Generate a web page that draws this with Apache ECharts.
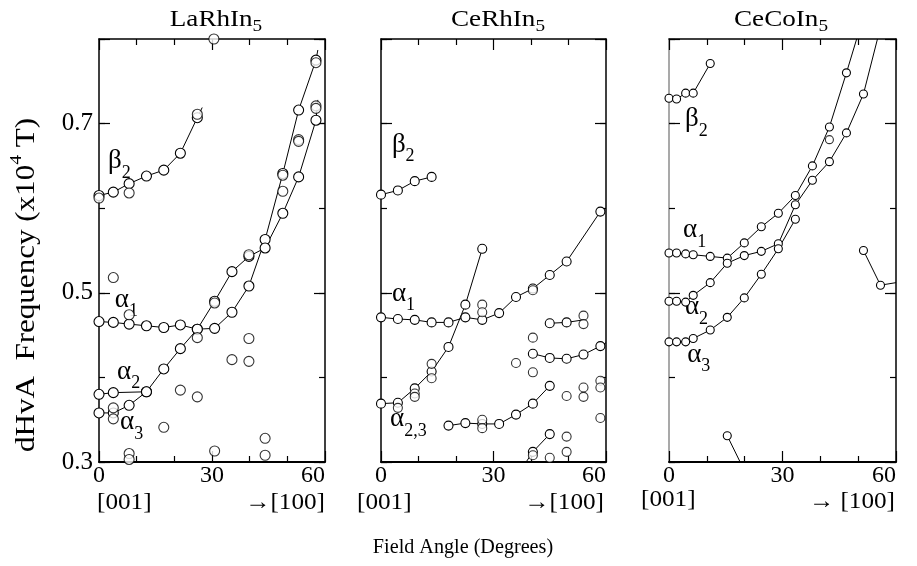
<!DOCTYPE html>
<html>
<head>
<meta charset="utf-8">
<script src="https://cdn.jsdelivr.net/npm/echarts@6/dist/echarts.min.js"></script>
<style>
  html, body { margin: 0; padding: 0; background: #fff; }
  #chart { width: 917px; height: 566px; }
</style>
</head>
<body>
<div id="chart"></div>
<script>
// ---- data (angle in degrees, frequency in 10^4 T) ----

// LaRhIn5
const laBeta2 = [[0, 0.615], [3.8, 0.619], [8.0, 0.629], [12.6, 0.638], [17.2, 0.645], [21.6, 0.665], [26.1, 0.707]];
const laBeta2Tip = [27.4, 0.719];
const laAlpha1 = [[0, 0.466], [3.8, 0.465], [8.0, 0.463], [12.6, 0.461], [17.2, 0.459], [21.6, 0.462], [26.1, 0.457],
  [30.7, 0.458], [35.3, 0.477], [39.8, 0.508], [44.1, 0.563], [48.8, 0.641], [53.0, 0.716], [57.6, 0.775]];
const laAlpha1Tip = [58.1, 0.787];
const laAlpha2 = [[0, 0.380], [3.8, 0.382], [12.6, 0.383]];
const laAlpha3 = [[0, 0.358], [3.8, 0.358], [8.0, 0.367], [12.6, 0.383], [17.2, 0.410], [21.6, 0.434], [26.1, 0.457],
  [30.7, 0.490], [35.3, 0.525], [39.8, 0.543], [44.1, 0.553], [48.8, 0.594], [53.0, 0.637], [57.6, 0.704]];
const laAlpha3Tip = [58.1, 0.728];
const laExtra = [[30.5, 0.8], [3.8, 0.518], [8.0, 0.474], [26.1, 0.447], [39.8, 0.446], [35.3, 0.421], [39.8, 0.419],
  [21.6, 0.385], [26.1, 0.377], [17.2, 0.341], [44.1, 0.328], [30.7, 0.313], [44.1, 0.308], [8.0, 0.310], [8.0, 0.303],
  [3.8, 0.364], [3.8, 0.351], [30.7, 0.488], [39.8, 0.545], [48.8, 0.620], [48.8, 0.639], [53.0, 0.681], [53.0, 0.679],
  [57.6, 0.721], [57.6, 0.718], [57.6, 0.772], [0, 0.612], [8.0, 0.618], [26.1, 0.711]];

// CeRhIn5
const crBeta2 = [[0, 0.616], [4.5, 0.621], [9, 0.632], [13.5, 0.637]];
const crAlpha1 = [[0, 0.471], [4.5, 0.469], [9, 0.468], [13.5, 0.465], [18, 0.465], [22.5, 0.471], [27, 0.468],
  [31.5, 0.476], [36, 0.495], [40.5, 0.505], [45, 0.521], [49.5, 0.537], [58.5, 0.596]];
const crAlpha23 = [[0, 0.369], [4.5, 0.370], [9, 0.387], [13.5, 0.407], [18, 0.436], [22.5, 0.486], [27, 0.552]];
const crLow = [[18, 0.343], [22.5, 0.346], [27, 0.345], [31.5, 0.345], [36, 0.356], [40.5, 0.369], [45, 0.390]];
const crMidA = [[45, 0.464], [49.5, 0.465]];
const crMidATip = [54, 0.468];
const crMidB = [[40.5, 0.428], [45, 0.423], [49.5, 0.422], [54, 0.427], [58.5, 0.437]];
const crMidBTip = [60, 0.441];
const crBottom = [[40.5, 0.312], [45, 0.333]];
const crBottomTip = [38.7, 0.3];
const crExtra = [[27, 0.486], [27, 0.477], [40.5, 0.503], [4.5, 0.364], [9, 0.381], [9, 0.377], [13.5, 0.399],
  [13.5, 0.416], [27, 0.350], [27, 0.340], [54, 0.473], [54, 0.463], [40.5, 0.447], [36, 0.417], [40.5, 0.406],
  [49.5, 0.378], [54, 0.388], [54, 0.377], [58.5, 0.396], [58.5, 0.388], [58.5, 0.352], [40.5, 0.308],
  [49.5, 0.330], [49.5, 0.312], [45, 0.305]];

// CeCoIn5
const ccBeta2 = [[0, 0.730], [2, 0.729], [4.4, 0.736], [6.4, 0.736], [10.9, 0.771]];
const ccAlpha1 = [[0, 0.547], [2, 0.547], [4.4, 0.546], [6.4, 0.545], [10.9, 0.543], [15.4, 0.541], [19.9, 0.559],
  [24.4, 0.578], [28.9, 0.594], [33.4, 0.615], [37.9, 0.650], [42.4, 0.696], [46.9, 0.760]];
const ccAlpha1Tip = [49.6, 0.8];
const ccAlpha2 = [[0, 0.490], [2, 0.490], [4.4, 0.489], [6.4, 0.497], [10.9, 0.512], [15.4, 0.535], [19.9, 0.544],
  [24.4, 0.549], [28.9, 0.558], [33.4, 0.604], [37.9, 0.633], [42.4, 0.655], [46.9, 0.689], [51.4, 0.735]];
const ccAlpha2Tip = [55.1, 0.8];
const ccAlpha3 = [[0, 0.442], [2, 0.442], [4.4, 0.442], [6.4, 0.446], [10.9, 0.456], [15.4, 0.471], [19.9, 0.494],
  [24.4, 0.522], [28.9, 0.552], [33.4, 0.587]];
const ccRight = [[51.4, 0.550], [55.9, 0.509]];
const ccRightTip = [60, 0.512];
const ccBottom = [[15.4, 0.331]];
const ccBottomTip = [18.8, 0.3];
const ccExtra = [[42.4, 0.681]];

const xTicks = [0, 30, 60];
const yTicks = [0.3, 0.5, 0.7];

// ---- layout ----
const FONT = '"Liberation Serif", "Times New Roman", serif';
const TOP = 39, HEIGHT = 423;

const panels = [
  { name: 'LaRhIn', left: 99, width: 226, titleX: 216, dot: 10,
    lines: [[laBeta2, null, laBeta2Tip], [laAlpha1, null, laAlpha1Tip], [laAlpha2], [laAlpha3, null, laAlpha3Tip]],
    extra: laExtra,
    labels: [['β', '2', 2.4, 0.656], ['α', '1', 4.2, 0.492], ['α', '2', 4.8, 0.407], ['α', '3', 5.6, 0.347]],
    from: 97, to: 325, toText: '→[100]' },
  { name: 'CeRhIn', left: 381, width: 225, titleX: 498, dot: 9,
    lines: [[crBeta2], [crAlpha1], [crAlpha23], [crLow], [crMidA, null, crMidATip], [crMidB, null, crMidBTip],
      [crBottom, crBottomTip]],
    extra: crExtra,
    labels: [['β', '2', 2.9, 0.675], ['α', '1', 2.9, 0.499], ['α', '2,3', 2.4, 0.351]],
    from: 357, to: 604, toText: '→[100]' },
  { name: 'CeCoIn', left: 669, width: 227, titleX: 781, dot: 8,
    lines: [[ccBeta2], [ccAlpha1, null, ccAlpha1Tip], [ccAlpha2, null, ccAlpha2Tip], [ccAlpha3],
      [ccRight, null, ccRightTip], [ccBottom, null, ccBottomTip]],
    extra: ccExtra,
    labels: [['β', '2', 4.2, 0.705], ['α', '1', 3.7, 0.574], ['α', '2', 4.2, 0.483], ['α', '3', 4.8, 0.427]],
    from: 641, to: 895, toText: '→ [100]' }
];

const chart = echarts.init(document.getElementById('chart'), null, { renderer: 'canvas' });

const grid = [], xAxis = [], yAxis = [], series = [];
const tick = { color: '#000', width: 1.2 };

panels.forEach((p, g) => {
  grid.push({ left: p.left, top: TOP, width: p.width, height: HEIGHT });

  ['bottom', 'top'].forEach(pos => {
    xAxis.push({
      type: 'value', gridIndex: g, position: pos, min: 0, max: 60, interval: 30,
      splitLine: { show: false },
      axisLine: { onZero: false, lineStyle: { color: '#000', width: pos === 'bottom' ? 2 : 1.5 } },
      axisTick: { inside: true, length: 11, lineStyle: tick },
      minorTick: { show: true, splitNumber: 3, length: 6, lineStyle: tick },
      axisLabel: {
        show: pos === 'bottom', margin: 2, color: '#000', fontFamily: FONT, fontSize: 24,
        alignMaxLabel: 'right',
        formatter: v => (xTicks.includes(Math.round(v)) ? String(Math.round(v)) : '')
      }
    });
  });

  ['left', 'right'].forEach(pos => {
    const lineColor = (g === 2 && pos === 'left') ? '#8c8c8c' : '#000';
    yAxis.push({
      type: 'value', gridIndex: g, position: pos, min: 0.3, max: 0.8, interval: 0.2,
      splitLine: { show: false },
      axisLine: { onZero: false, lineStyle: { color: lineColor, width: 1.5 } },
      axisTick: { inside: true, length: 11, lineStyle: tick },
      axisLabel: {
        show: g === 0 && pos === 'left', margin: 6, color: '#000', fontFamily: FONT, fontSize: 25,
        formatter: v => {
          const r = Math.round(v * 10) / 10;
          return yTicks.includes(r) ? r.toFixed(1) : '';
        }
      }
    });
    yAxis.push({
      type: 'value', gridIndex: g, position: pos, min: 0.3, max: 0.8, interval: 0.1,
      splitLine: { show: false },
      axisLine: { show: false, onZero: false },
      axisTick: { inside: true, length: 6, lineStyle: tick },
      axisLabel: { show: false }
    });
  });

  const dotStyle = { color: '#fff', borderColor: '#000', borderWidth: 1.1 };
  p.lines.forEach(([pts, head, tail]) => {
    const data = pts.slice();
    if (head) data.unshift({ value: head, symbol: 'none' });
    if (tail) data.push({ value: tail, symbol: 'none' });
    series.push({
      type: 'line', xAxisIndex: 2 * g, yAxisIndex: 4 * g, data,
      symbol: 'circle', symbolSize: p.dot, showAllSymbol: true, clip: false,
      lineStyle: { color: '#000', width: 1 }, itemStyle: dotStyle, z: 3
    });
  });
  series.push({
    type: 'scatter', xAxisIndex: 2 * g, yAxisIndex: 4 * g, data: p.extra,
    symbol: 'circle', symbolSize: p.dot, clip: false, itemStyle: dotStyle, z: 4
  });
});

chart.setOption({ animation: false, grid, xAxis, yAxis, series });

// ---- text (titles, greek labels, axis captions) ----
const ctx = document.createElement('canvas').getContext('2d');
function textW(t, size) {
  ctx.font = size + 'px ' + FONT;
  return ctx.measureText(t).width;
}
// segs: [text, size, dy]; builds a run of text pieces laid out left to right
function textRun(x, y, segs, opts) {
  const o = Object.assign({ align: 'left', sx: 1, rotation: 0 }, opts);
  const widths = segs.map(s => textW(s[0], s[1]));
  const total = widths.reduce((a, b) => a + b, 0);
  let cx = o.align === 'center' ? -total / 2 : o.align === 'right' ? -total : 0;
  const children = segs.map((s, i) => {
    const el = {
      type: 'text',
      style: {
        x: cx, y: s[2] || 0, text: s[0], font: s[1] + 'px ' + FONT, fill: '#000',
        align: 'left', verticalAlign: 'middle', textAlign: 'left', textVerticalAlign: 'middle'
      }
    };
    cx += widths[i];
    return el;
  });
  return { type: 'group', x, y, rotation: o.rotation, scaleX: o.sx, children };
}

const graphic = [];
panels.forEach((p, g) => {
  graphic.push(textRun(p.titleX, 20, [[p.name, 24], ['5', 17, 7]], { align: 'center', sx: 1.13 }));
  p.labels.forEach(([main, sub, x, y]) => {
    const pt = chart.convertToPixel({ xAxisIndex: 2 * g, yAxisIndex: 4 * g }, [x, y]);
    graphic.push(textRun(pt[0], pt[1], [[main, 27], [sub, 18, 12]]));
  });
  graphic.push(textRun(p.from, g === 2 ? 500 : 503, [['[001]', 24]], { sx: 1.05 }));
  graphic.push(textRun(p.to, g === 2 ? 502 : 503, [[p.toText, 24]], { align: 'right', sx: 1.05 }));
});
graphic.push(textRun(463, 547, [['Field Angle (Degrees)', 21]], { align: 'center', sx: 0.96 }));
graphic.push(textRun(27, 285, [['dHvA  Frequency (x10', 27], ['4', 17, -10], [' T)', 27]],
  { align: 'center', rotation: Math.PI / 2, sx: 1.15 }));

chart.setOption({ graphic });
</script>
</body>
</html>
